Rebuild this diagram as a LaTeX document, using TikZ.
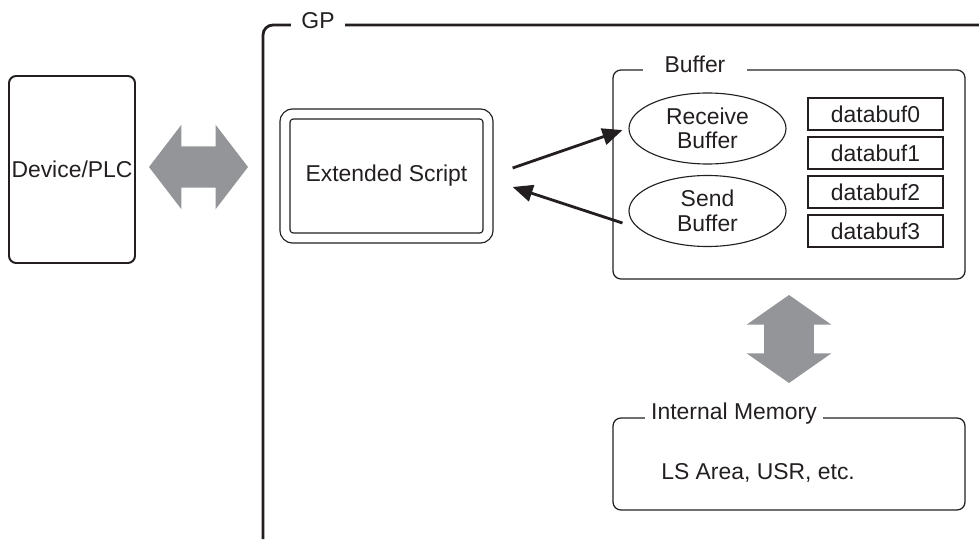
\documentclass[tikz,border=0pt]{standalone}
\usepackage{fontspec}
\setmainfont{Liberation Sans}
\usetikzlibrary{arrows.meta, positioning, shapes.geometric, shapes.arrows}
\definecolor{ink}{HTML}{231F20}
\definecolor{fatgray}{HTML}{939598}

\begin{document}
\begin{tikzpicture}[>={Triangle[length=5mm, width=4.2mm]},
  font=\fontsize{16.3}{17.5}\selectfont,
  every node/.style={text=ink},
  box/.style={draw=ink, line width=0.9pt, rounded corners=0.2cm, inner sep=0pt},
  cell/.style={draw=ink, line width=0.9pt, minimum width=3.375cm, minimum height=0.8cm, inner sep=0pt},
  oval/.style={draw=ink, ellipse, line width=0.8pt, minimum width=3.925cm, minimum height=1.775cm, inner sep=0pt, align=center},
  tag/.style={fill=white, inner ysep=2pt},
  fatarrow/.style={fill=fatgray, double arrow, inner xsep=0pt},
  flow/.style={draw=ink, ->, line width=2pt}]

\useasboundingbox (0,0) rectangle (24.475,13.475);

% Device side
\node[box, line width=1.4pt, rounded corners=0.18cm, minimum width=3.15cm, minimum height=4.675cm] (plc) at (1.8,9.2375) {Device/PLC};

% link between device and GP
\node[fatarrow, inner ysep=0.51cm, minimum height=2.475cm, double arrow head extend=0.54cm, double arrow tip angle=105] (link) at (4.9625,9.3) {};

% GP frame (runs off the page)
\draw[ink, line width=2pt, rounded corners=0.25cm] (24.475,12.85) -- (6.575,12.85) -- (6.575,0);

% Extended Script
\node[box, double, double distance=0.22cm, minimum width=5.075cm, minimum height=3.1cm] (ext) at (9.6625,9.075) {Extended Script};

% Buffer frame
\node[box, minimum width=8.8cm, minimum height=5.225cm] (buf) at (19.725,9.1125) {};
\node[oval] (recv) at (17.6875,10.2625) {Receive\\Buffer};
\node[oval] (send) at (17.6875,8.2) {Send\\Buffer};
\foreach \i in {0,...,3} {
  \node[cell] (db\i) at (21.8875,10.625-0.975*\i) {databuf\i};
}

% script <-> buffers
\draw[flow] ([xshift=0.6cm, yshift=0.2cm]ext.east) -- ([xshift=-0.15cm, yshift=-0.04cm]recv.west);
\draw[flow] ([xshift=-0.15cm, yshift=-0.3cm]send.west) -- ([xshift=0.6cm, yshift=-0.275cm]ext.east);

% buffer <-> memory
\node[fatarrow, rotate=90, inner ysep=0.6125cm, minimum height=2.2cm, double arrow head extend=0.44cm, double arrow tip angle=110] (sync) at (19.725,5.0) {};

% Internal Memory frame
\node[box, minimum width=8.8cm, minimum height=2.3cm] (mem) at (19.725,1.875) {};
\node[anchor=west, inner sep=0pt] (lsarea) at (16.525,1.65) {LS Area, USR, etc.};

% frame titles
\node[tag, inner xsep=0.26cm] (gptag) at (7.95,12.95) {GP};
\node[tag, inner xsep=0.54cm] (buftag) at (17.375,11.875) {Buffer};
\node[tag, inner xsep=0.16cm] (memtag) at (18.35,3.1375) {Internal Memory};

\end{tikzpicture}
\end{document}
